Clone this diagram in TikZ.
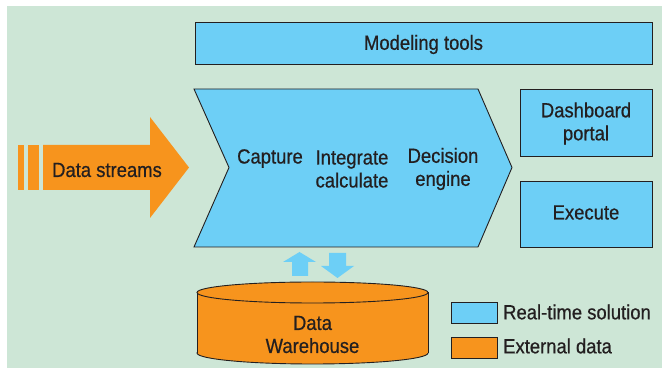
\documentclass[tikz,border=0pt]{standalone}
\usepackage{fontspec}
\setmainfont{Liberation Sans}[FakeStretch=0.9,FakeBold=0.6]
\usepackage{color,xcolor}

\definecolor{bggreen}{HTML}{CDE6D6}
\definecolor{rtblue}{HTML}{6DCFF6}
\definecolor{extorange}{HTML}{F7941D}
\definecolor{txtgray}{HTML}{231F20}

\begin{document}
\begin{tikzpicture}[x=1pt,y=-1pt,
    every node/.style={font=\fontsize{20.5}{23}\selectfont, text=txtgray, align=center},
    box/.style={draw=txtgray, line width=0.9pt, fill=rtblue},
    obox/.style={draw=txtgray, line width=0.9pt, fill=extorange}]
        % 背景
        \useasboundingbox (0,0) rectangle (662,371);
        \fill[bggreen] (7,6) rectangle (662,368);

        % 顶部的框
        \draw[box] (195,22) rectangle (652,64);
        \node (model) at (423.5,44.5) {Modeling tools};

        % 箭头形的处理流程
        \coordinate (P1) at (194,89);
        \coordinate (P2) at (478,89);
        \coordinate (P3) at (512,167.5);
        \coordinate (P4) at (478,247);
        \coordinate (P5) at (194,247);
        \coordinate (P6) at (229,167.5);
        \draw[box] (P1) -- (P2) -- (P3) -- (P4) -- (P5) -- (P6) -- cycle;
        \node (capture) at (270,158.5) {Capture};
        \node (integ) at (352,169) {Integrate\\calculate};
        \node (decision) at (443,169) {Decision\\engine};

        % 右侧的两个框
        \draw[box] (520,89) rectangle (652,156);
        \node (dash) at (586,123.5) {Dashboard\\portal};
        \draw[box] (520,181) rectangle (652,247);
        \node (exec) at (586,212.5) {Execute};

        % 数据流箭头
        \fill[extorange] (18,145) rectangle (24,190);
        \fill[extorange] (28,145) rectangle (39,190);
        \fill[extorange] (43,145) -- (150,145) -- (150,117) -- (189,167.5)
            -- (150,218) -- (150,190) -- (43,190) -- cycle;
        \node (streams) at (107,170) {Data streams};

        % 上下两个小箭头
        \fill[rtblue] (299.5,252) -- (316,262) -- (308,262) -- (308,276)
            -- (292,276) -- (292,262) -- (283,262) -- cycle;
        \fill[rtblue] (337.5,278) -- (354,266) -- (346,266) -- (346,253)
            -- (329,253) -- (329,266) -- (321,266) -- cycle;

        % 数据仓库 (圆柱)
        \filldraw[obox] (312.5,353) ellipse (115.5 and 11);
        \fill[extorange] (197,292.5) rectangle (428,353);
        \draw[txtgray, line width=0.9pt] (197,292.5) -- (197,353);
        \draw[txtgray, line width=0.9pt] (428,292.5) -- (428,353);
        \filldraw[obox] (312.5,292.5) ellipse (115.5 and 10.5);
        \node (dw) at (312.5,334.5) {Data\\Warehouse};

        % 图例
        \draw[box] (451,302) rectangle (497,323);
        \node[anchor=west, inner sep=0pt] (legrt) at (503,312) {Real-time solution};
        \draw[obox] (451,337) rectangle (497,358);
        \node[anchor=west, inner sep=0pt] (legext) at (503,346) {External data};
    \end{tikzpicture}
\end{document}
